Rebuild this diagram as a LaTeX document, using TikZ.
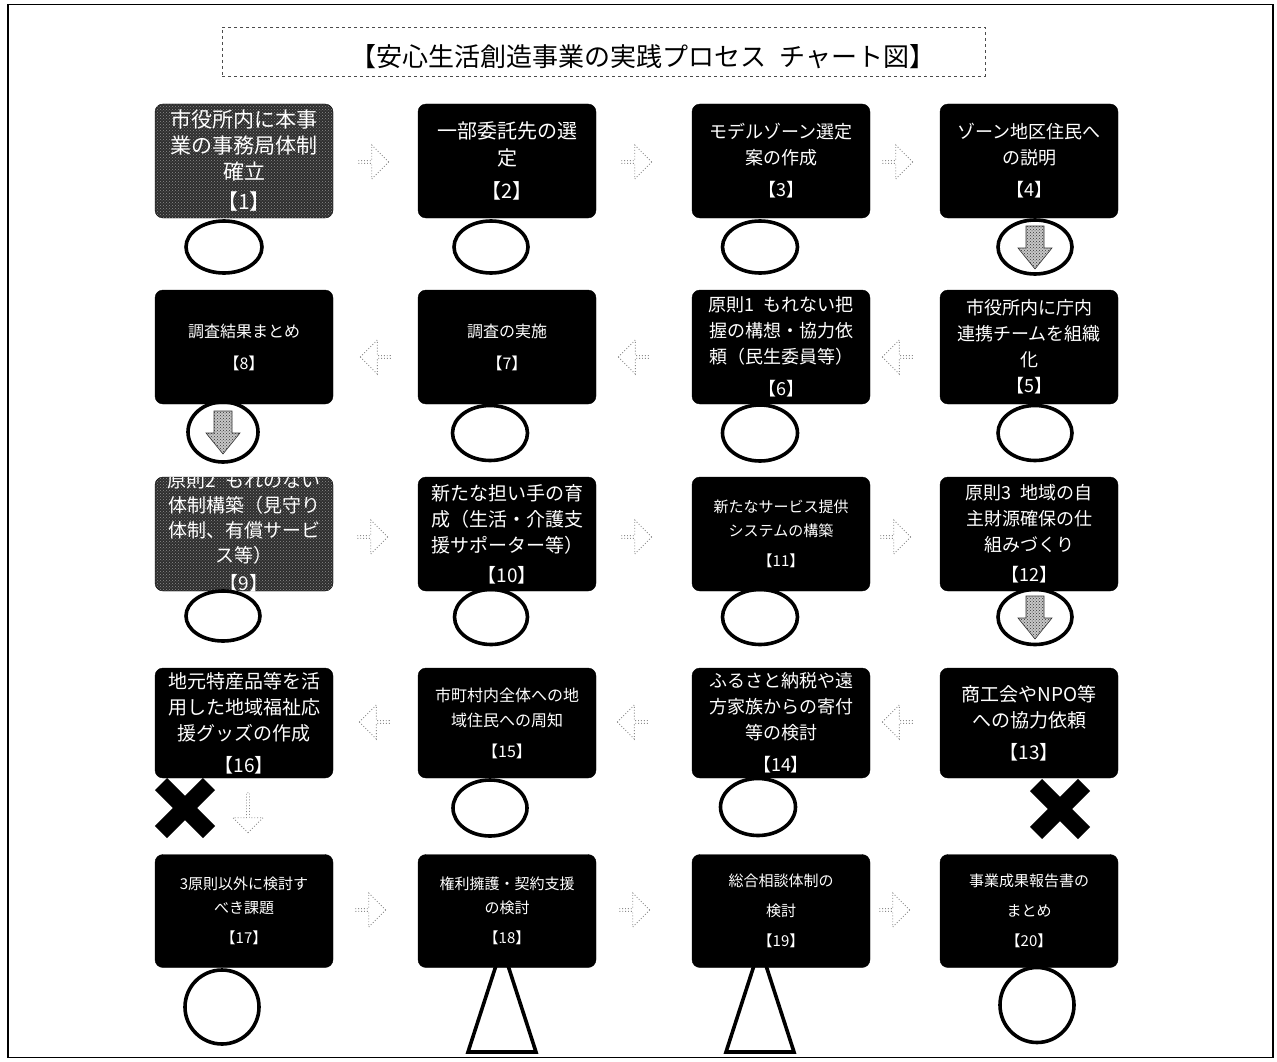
\documentclass[tikz,border=0pt]{standalone}
\usepackage{fontspec}
\setmainfont{Noto Sans CJK JP}
\usetikzlibrary{shapes.arrows,shapes.geometric,patterns,calc}
\tikzset{
  stepbox/.style={draw=black, fill=black, rounded corners=8pt, minimum width=178pt, minimum height=114pt, inner sep=2pt, text=white, align=center},
  grainbox/.style={stepbox, fill=black!82, postaction={pattern=crosshatch dots, pattern color=black!45}},
  flowright/.style={single arrow, draw=black!45, dotted, line width=0.9pt, minimum height=30pt, minimum width=34pt, single arrow head extend=5pt, inner sep=0pt},
  flowleft/.style={flowright, shape border rotate=180},
  ring/.style={ellipse, draw=black, line width=3.6pt, inner sep=0pt},
  downfill/.style={draw=black!80, line width=0.6pt, fill=black!22, postaction={pattern=crosshatch dots, pattern color=black!80}},
  crossmark/.style={line width=17pt, black},
  tri/.style={draw=black, line width=3.6pt, line join=miter},
}
\newcommand\downmark[1]{%
  \path[downfill] ($(#1)+(-9,-21)$) -- ($(#1)+(9,-21)$) -- ($(#1)+(9,1)$) -- ($(#1)+(17,1)$) -- ($(#1)+(0,22)$) -- ($(#1)+(-17,1)$) -- ($(#1)+(-9,1)$) -- cycle;}
\newcommand\crossat[1]{%
  \draw[crossmark] ($(#1)+(-24,-24)$) -- ($(#1)+(24,24)$);
  \draw[crossmark] ($(#1)+(-24,24)$) -- ($(#1)+(24,-24)$);}
\begin{document}
\begin{tikzpicture}[x=1pt,y=-1pt]
\useasboundingbox (0,0) rectangle (1277,1062);
\fill[white] (0,0) rectangle (1277,1062);
% outer frame
\draw[line width=1.6pt] (8,4.5) rectangle (1273,1057.5);
% title
\node[draw=black!70, dashed, line width=0.8pt, minimum width=763pt, minimum height=49pt] (titlebox) at (603.5,51.5) {};
\node[font=\fontsize{26}{30}\selectfont, inner sep=0pt] (title) at (643,57) {【安心生活創造事業の実践プロセス\hspace{0.5em}チャート図】};

% ---------- row 1 ----------
\node[grainbox, font=\fontsize{21}{26}\selectfont] (b1) at (244,161) {市役所内に本事\\業の事務局体制\\確立\\[4pt]【1】};
\node[stepbox, font=\fontsize{20}{27}\selectfont] (b2) at (507,161) {一部委託先の選\\定\\[6pt]【2】};
\node[stepbox, font=\fontsize{18}{26}\selectfont] (b3) at (781,161) {モデルゾーン選定\\案の作成\\[6pt]【3】};
\node[stepbox, font=\fontsize{18}{26}\selectfont] (b4) at (1029,161) {ゾーン地区住民へ\\の説明\\[6pt]【4】};
\node[flowright] (a12) at (373,162) {};
\node[flowright] (a23) at (636,162) {};
\node[flowright] (a34) at (897,162) {};
\node[ring, minimum width=76pt, minimum height=52pt] (m1) at (224,247) {};
\node[ring, minimum width=74pt, minimum height=52pt] (m2) at (491,247) {};
\node[ring, minimum width=75pt, minimum height=52pt] (m3) at (760,247) {};
\node[ring, minimum width=74pt, minimum height=54pt] (m4) at (1035,247) {};
\downmark{m4}

% ---------- row 2 ----------
\node[stepbox, font=\fontsize{16}{24}\selectfont] (b8) at (244,347) {調査結果まとめ\\[8pt]【8】};
\node[stepbox, font=\fontsize{16}{24}\selectfont] (b7) at (507,347) {調査の実施\\[8pt]【7】};
\node[stepbox, font=\fontsize{18}{26}\selectfont] (b6) at (781,347) {原則1\enspace もれない把\\握の構想・協力依\\頼（民生委員等）\\[6pt]【6】};
\node[stepbox, font=\fontsize{18}{26}\selectfont] (b5) at (1029,347) {市役所内に庁内\\連携チームを組織\\化\\【5】};
\node[flowleft] (a87) at (376,357) {};
\node[flowleft] (a76) at (634,357) {};
\node[flowleft] (a65) at (898,357) {};
\node[ring, minimum width=70pt, minimum height=60pt] (m8) at (223,432) {};
\downmark{m8}
\node[ring, minimum width=75pt, minimum height=55pt] (m7) at (490,433) {};
\node[ring, minimum width=75pt, minimum height=56pt] (m6) at (760,433) {};
\node[ring, minimum width=74pt, minimum height=55pt] (m5) at (1035,433) {};

% ---------- row 3 ----------
\node[grainbox] (b9) at (244,534) {};
\begin{scope}
  \clip[rounded corners=8pt] (155,477) rectangle (333,591);
  \node[text=white, align=center, font=\fontsize{19}{25}\selectfont, inner sep=0pt] (t9) at (244,532) {原則2\enspace もれのない\\体制構築（見守り\\体制、有償サービ\\ス等）\\[3pt]【9】};
\end{scope}
\node[stepbox, font=\fontsize{19}{26}\selectfont] (b10) at (507,534) {新たな担い手の育\\成（生活・介護支\\援サポーター等）\\[4pt]【10】};
\node[stepbox, font=\fontsize{15}{24}\selectfont] (b11) at (781,534) {新たなサービス提供\\システムの構築\\[6pt]【11】};
\node[stepbox, font=\fontsize{18}{26}\selectfont] (b12) at (1029,534) {原則3\enspace 地域の自\\主財源確保の仕\\組みづくり\\[4pt]【12】};
\node[flowright] (a910) at (372,537) {};
\node[flowright] (a1011) at (636,537) {};
\node[flowright] (a1112) at (895,537) {};
\node[ring, minimum width=74pt, minimum height=50pt] (m9) at (223,616) {};
\node[ring, minimum width=73pt, minimum height=55pt] (m10) at (491,617) {};
\node[ring, minimum width=75pt, minimum height=55pt] (m11) at (760,617) {};
\node[ring, minimum width=74pt, minimum height=55pt] (m12) at (1035,617) {};
\downmark{m12}

% ---------- row 4 ----------
\node[stepbox, minimum height=110pt, font=\fontsize{19}{26}\selectfont] (b16) at (244,723) {地元特産品等を活\\用した地域福祉応\\援グッズの作成\\[6pt]【16】};
\node[stepbox, minimum height=110pt, font=\fontsize{16}{25}\selectfont] (b15) at (507,723) {市町村内全体への地\\域住民への周知\\[6pt]【15】};
\node[stepbox, minimum height=110pt, font=\fontsize{18}{26}\selectfont] (b14) at (781,723) {ふるさと納税や遠\\方家族からの寄付\\等の検討\\[6pt]【14】};
\node[stepbox, minimum height=110pt, font=\fontsize{19}{26}\selectfont] (b13) at (1029,723) {商工会やNPO等\\への協力依頼\\[6pt]【13】};
\node[flowleft] (a1615) at (375,722) {};
\node[flowleft] (a1514) at (633,722) {};
\node[flowleft] (a1413) at (898,722) {};
\coordinate (x16) at (185,808);
\crossat{x16}
\node[single arrow, shape border rotate=270, draw=black!45, dotted, line width=0.9pt, minimum height=40pt, minimum width=30pt, single arrow head extend=4pt, inner sep=0pt] (d16) at (248,812) {};
\node[ring, minimum width=74pt, minimum height=56pt] (m15) at (490,808) {};
\node[ring, minimum width=75pt, minimum height=57pt] (m14) at (758,807) {};
\coordinate (x13) at (1060,809);
\crossat{x13}

% ---------- row 5 ----------
\node[stepbox, minimum height=113pt, font=\fontsize{15}{24}\selectfont] (b17) at (244,911) {3原則以外に検討す\\べき課題\\[6pt]【17】};
\node[stepbox, minimum height=113pt, font=\fontsize{15}{24}\selectfont] (b18) at (507,911) {権利擁護・契約支援\\の検討\\[6pt]【18】};
\node[stepbox, minimum height=113pt, font=\fontsize{15}{24}\selectfont] (b19) at (781,911) {総合相談体制の\\[6pt]検討\\[6pt]【19】};
\node[stepbox, minimum height=113pt, font=\fontsize{15}{24}\selectfont] (b20) at (1029,911) {事業成果報告書の\\[6pt]まとめ\\[6pt]【20】};
\node[flowright] (a1718) at (370,910) {};
\node[flowright] (a1819) at (634,910) {};
\node[flowright] (a1920) at (894,910) {};
\node[ring, minimum width=74pt, minimum height=74pt] (m17) at (222,1007) {};
\draw[tri] (502,947) -- (536,1052) -- (468,1052) -- cycle;
\draw[tri] (760,947) -- (794,1052) -- (726,1052) -- cycle;
\node[ring, minimum width=74pt, minimum height=75pt] (m20) at (1037,1005) {};
\end{tikzpicture}
\end{document}
